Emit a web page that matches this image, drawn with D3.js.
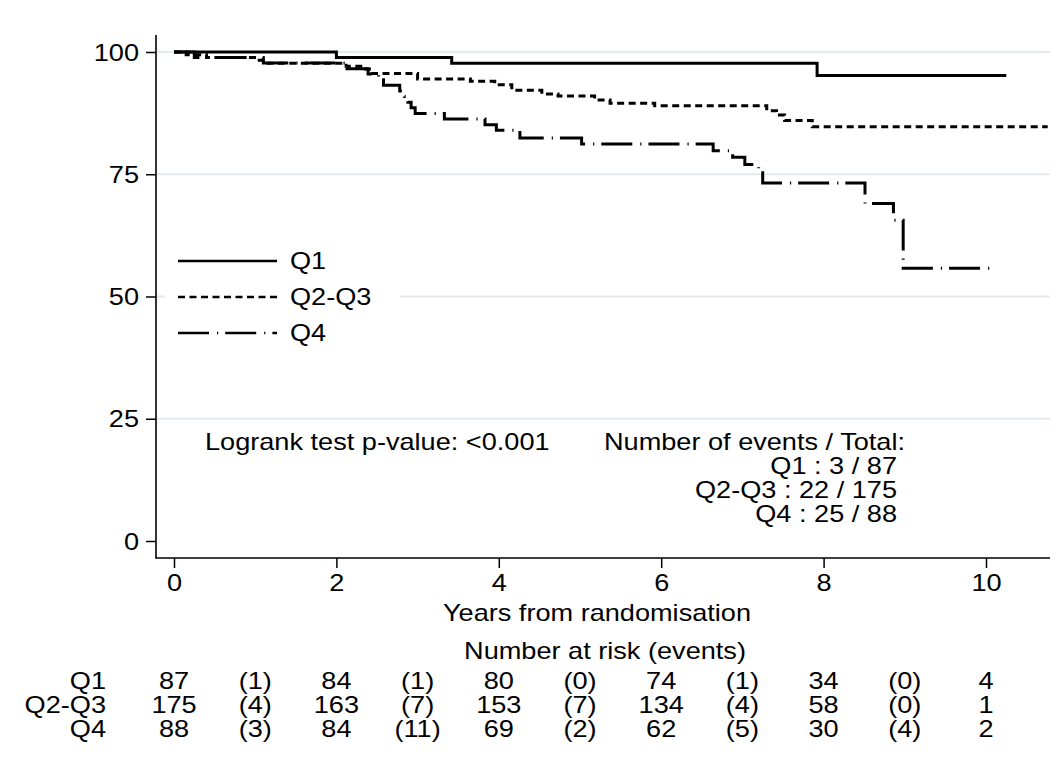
<!DOCTYPE html>
<html>
<head>
<meta charset="utf-8">
<script src="https://cdn.jsdelivr.net/npm/d3@7"></script>
<style>
  html, body { margin: 0; padding: 0; background: #ffffff; }
  text { font-family: "Liberation Sans", Arial, sans-serif; fill: #000; }
</style>
</head>
<body>
<svg id="chart" width="1064" height="781"></svg>
<script>
// ---------- data ----------
const groups = ["Q1", "Q2-Q3", "Q4"];
const xTicks = [0, 2, 4, 6, 8, 10];
const yTicks = [0, 25, 50, 75, 100];

// Kaplan-Meier step curves: event times (years) and survival (%) after each event
const q1Times = [0, 2.00, 3.42, 7.92];
const q1Surv  = [100, 98.85, 97.70, 95.20];
const q1End = 10.25;

const q23Times = [0, 0.15, 0.40, 1.05, 1.12, 2.12, 2.30, 2.44, 3.00, 3.65, 3.95, 4.16, 4.53, 4.73, 5.18, 5.37, 5.92, 7.30, 7.42, 7.52, 7.86];
const q23Surv  = [100, 99.43, 98.86, 98.29, 97.71, 97.10, 96.50, 95.60, 94.50, 94.00, 93.30, 92.20, 91.40, 91.00, 90.20, 89.50, 89.00, 88.00, 87.10, 86.00, 84.70];
const q23End = 10.76;

const q4Times = [0, 0.25, 1.10, 2.13, 2.39, 2.52, 2.58, 2.78, 2.84, 2.88, 2.92, 2.97, 3.33, 3.83, 3.97, 4.26, 5.02, 6.64, 6.88, 7.03, 7.20, 7.25, 8.51, 8.86, 8.98];
const q4Surv  = [100, 98.86, 97.73, 96.60, 95.50, 94.30, 93.20, 92.00, 90.90, 89.70, 88.60, 87.40, 86.30, 85.10, 84.00, 82.40, 81.20, 79.80, 78.50, 77.00, 75.30, 73.20, 69.00, 65.60, 55.80];
const q4End = 10.09;

// number at risk (events) table, columns at years 0,1,...,10
const riskCols = [0, 1, 2, 3, 4, 5, 6, 7, 8, 9, 10];
const riskQ1  = ["87", "(1)", "84", "(1)", "80", "(0)", "74", "(1)", "34", "(0)", "4"];
const riskQ23 = ["175", "(4)", "163", "(7)", "153", "(7)", "134", "(4)", "58", "(0)", "1"];
const riskQ4  = ["88", "(3)", "84", "(11)", "69", "(2)", "62", "(5)", "30", "(4)", "2"];

const eventsTotal = ["Q1 : 3 / 87", "Q2-Q3 : 22 / 175", "Q4 : 25 / 88"];
const logrankText = "Logrank test p-value: <0.001";
const eventsHeader = "Number of events / Total:";
const xTitle = "Years from randomisation";
const riskTitle = "Number at risk (events)";

// ---------- drawing ----------
const svg = d3.select("#chart");
const FS = 23;        // font size
const SX = 1.18;      // horizontal text stretch of the reference
const axisX = 156, axisBottomY = 558, axisTopY = 35, plotRight = 1050;

const x = d3.scaleLinear().domain([0, 10]).range([174, 986]);
const y = d3.scaleLinear().domain([0, 100]).range([541, 52]);

svg.append("rect").attr("width", 1064).attr("height", 781).attr("fill", "#fff");

function txt(sel, px, py, s, anchor) {
  return sel.append("text")
    .attr("transform", `translate(${px},${py}) scale(${SX},1)`)
    .attr("text-anchor", anchor || "start")
    .attr("dy", "0.35em")
    .style("font-size", FS + "px")
    .text(s);
}

// gridlines
svg.append("g").selectAll("line").data(yTicks.filter(d => d > 0)).join("line")
  .attr("x1", axisX).attr("x2", plotRight)
  .attr("y1", d => y(d)).attr("y2", d => y(d))
  .attr("stroke", "#e3ebee").attr("stroke-width", 1.8);

// axes lines
svg.append("line").attr("x1", axisX).attr("x2", axisX).attr("y1", axisTopY).attr("y2", axisBottomY + 0.5)
  .attr("stroke", "#000").attr("stroke-width", 1.6);
svg.append("line").attr("x1", axisX - 0.5).attr("x2", plotRight).attr("y1", axisBottomY).attr("y2", axisBottomY)
  .attr("stroke", "#000").attr("stroke-width", 1.6);

// y axis ticks
const gy = svg.append("g").attr("transform", `translate(${axisX},0)`)
  .call(d3.axisLeft(y).tickValues(yTicks).tickSize(10).tickSizeOuter(0).tickFormat(d3.format("d")));
gy.select(".domain").remove();
gy.selectAll(".tick line").attr("stroke", "#000").attr("stroke-width", 1.5);
gy.selectAll(".tick text").attr("x", null).attr("dy", "0.35em")
  .attr("transform", `translate(-17,0) scale(${SX},1)`)
  .style("font-size", FS + "px").style("font-family", "Liberation Sans, Arial, sans-serif");

// x axis ticks
const gx = svg.append("g").attr("transform", `translate(0,${axisBottomY})`)
  .call(d3.axisBottom(x).tickValues(xTicks).tickSize(10).tickSizeOuter(0).tickFormat(d3.format("d")));
gx.select(".domain").remove();
gx.selectAll(".tick line").attr("stroke", "#000").attr("stroke-width", 1.5);
gx.selectAll(".tick text").attr("y", null).attr("dy", "0.35em")
  .attr("transform", `translate(0,25) scale(${SX},1)`)
  .style("font-size", FS + "px").style("font-family", "Liberation Sans, Arial, sans-serif");

// curves
const styles = [
  { dash: null },
  { dash: "7,4.5" },
  { dash: "31,8,1.2,7" }
];
const series = [
  { t: q1Times, s: q1Surv, end: q1End },
  { t: q23Times, s: q23Surv, end: q23End },
  { t: q4Times, s: q4Surv, end: q4End }
];
const line = d3.line().x(d => x(d[0])).y(d => y(d[1])).curve(d3.curveStepAfter);
series.forEach((sr, i) => {
  const pts = sr.t.map((t, k) => [t, sr.s[k]]);
  pts.push([sr.end, sr.s[sr.s.length - 1]]);
  svg.append("path").attr("d", line(pts))
    .attr("fill", "none").attr("stroke", "#000").attr("stroke-width", 3)
    .attr("stroke-dasharray", styles[i].dash);
});

// legend
const lg = svg.append("g");
lg.append("rect").attr("x", 165).attr("y", 240).attr("width", 235).attr("height", 115).attr("fill", "#fff");
const legY = [261, 297, 333];
groups.forEach((g, i) => {
  lg.append("line").attr("x1", 178).attr("x2", 277).attr("y1", legY[i]).attr("y2", legY[i])
    .attr("stroke", "#000").attr("stroke-width", 2.6).attr("stroke-dasharray", styles[i].dash);
  txt(lg, 290, legY[i], g, "start");
});

// annotations
txt(svg, 205, 442, logrankText, "start");
txt(svg, 905, 442, eventsHeader, "end");
eventsTotal.forEach((s, i) => txt(svg, 897, 466 + 24 * i, s, "end"));

// titles
txt(svg, 597, 613, xTitle, "middle");
txt(svg, 605, 651, riskTitle, "middle");

// risk table
const riskRows = [riskQ1, riskQ23, riskQ4];
const rowY = [681, 705, 729];
riskRows.forEach((row, r) => {
  txt(svg, 106, rowY[r], groups[r], "end");
  row.forEach((v, c) => txt(svg, x(riskCols[c]), rowY[r], v, "middle"));
});
</script>
</body>
</html>
